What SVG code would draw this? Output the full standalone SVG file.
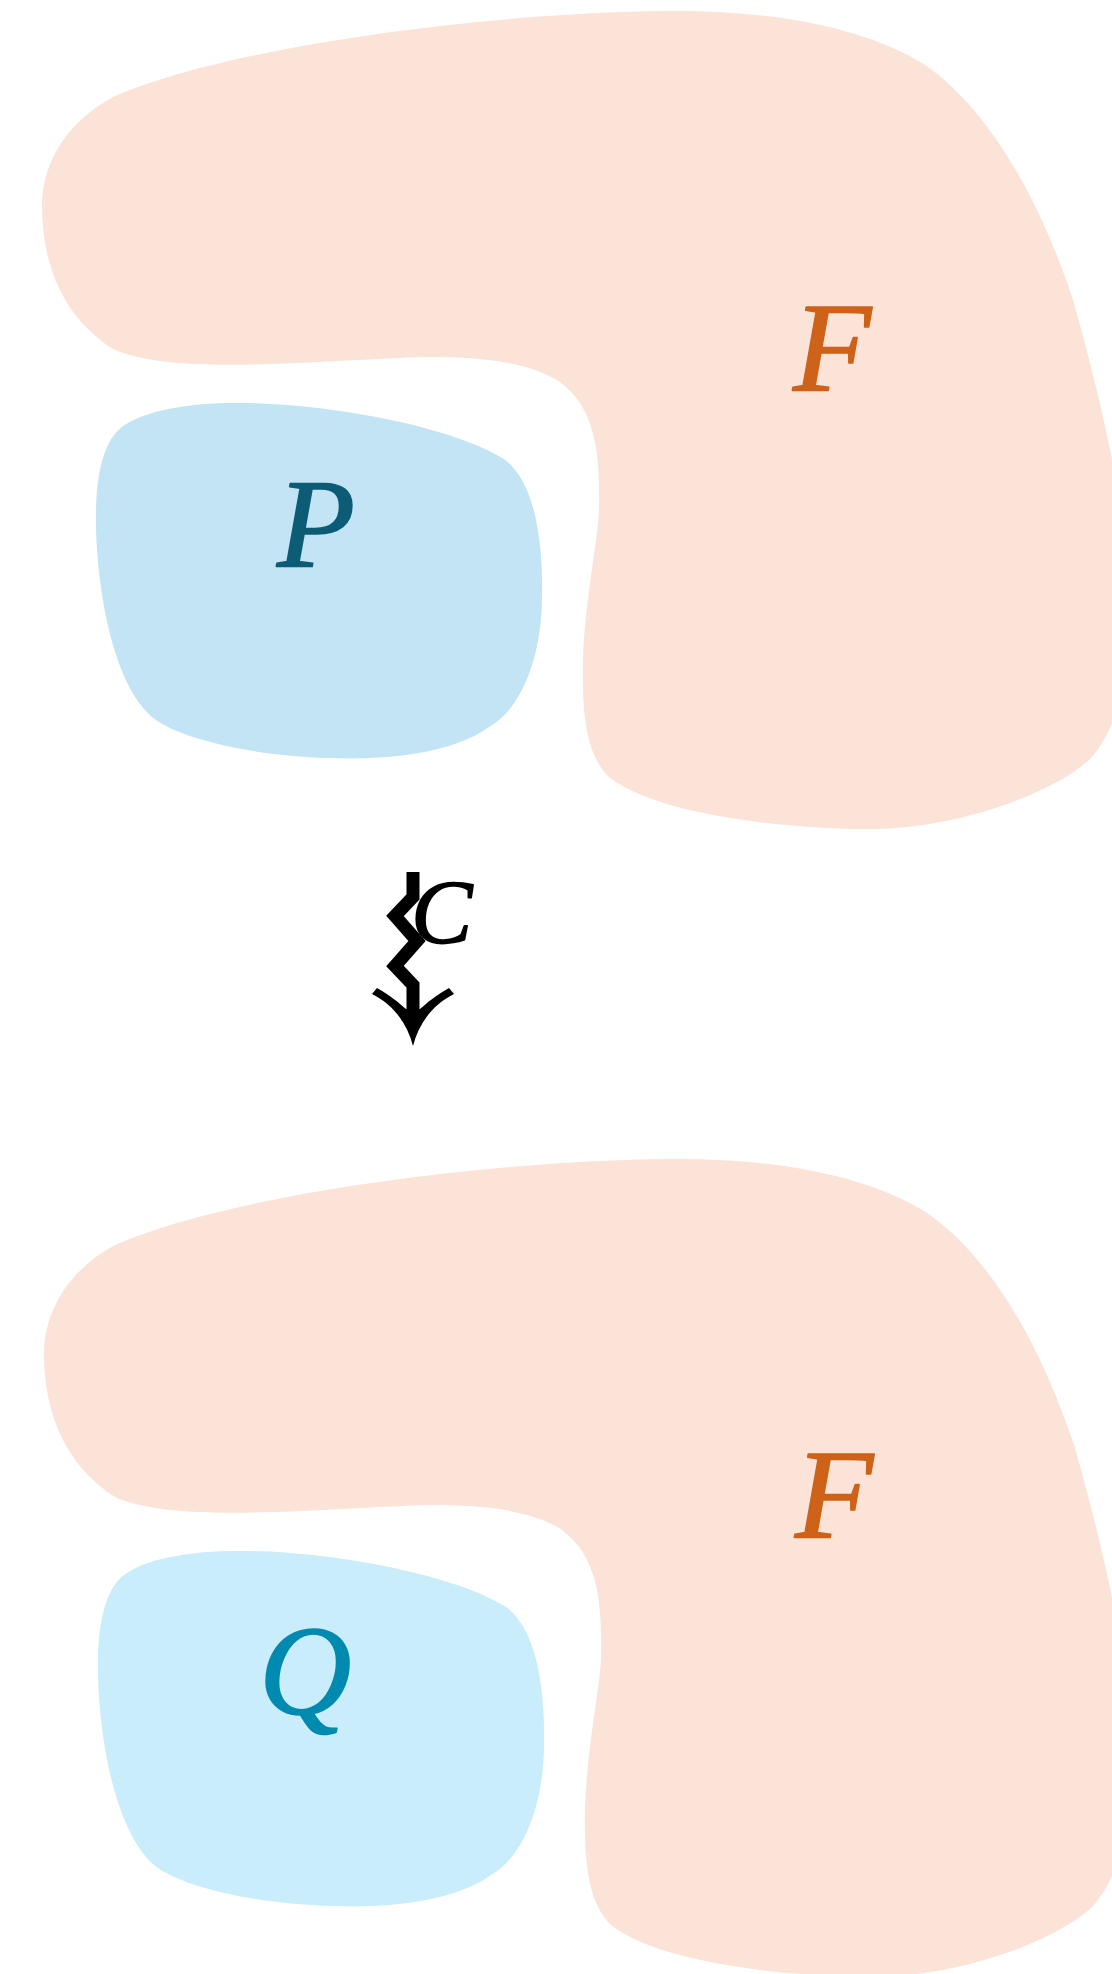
<svg xmlns="http://www.w3.org/2000/svg" width="1112" height="1974" viewBox="0 0 1112 1974">
  <style>
    .big { fill: #fbe3d7; }
    .setP { fill: #c2e4f4; }
    .setQ { fill: #caedfb; }
    .lbl { font-family: "Liberation Serif", "Times New Roman", serif; font-style: italic; stroke-width: 1.5px; stroke-linejoin: round; }
    .lblF { fill: #cd6218; stroke: #cd6218; font-size: 128px; }
    .lblP { fill: #0d5c75; stroke: #0d5c75; font-size: 128px; }
    .lblQ { fill: #008ab0; stroke: #008ab0; font-size: 128px; }
    .lblC { fill: #000000; stroke: #000000; font-size: 92px; }
  </style>
  <defs>
    <!-- large region, reused in both panels -->
    <path id="regionF" d="M 667,11 C 780,10 870,30 925,65 C 990,110 1040,200 1073,300 C 1090,360 1105,420 1118,490 C 1135,590 1140,700 1092,757 C 1060,790 960,830 865,829 C 780,828 660,815 610,778 C 585,755 582,710 583,660 C 585,600 598,540 599,510 C 600,460 598,410 560,382 C 520,355 440,356 400,358 C 300,362 170,375 113,349 C 60,315 42,260 42,206 C 42,160 70,120 113,97 C 230,45 500,12 667,11 Z"/>
    <!-- small region, reused in both panels -->
    <path id="regionSmall" d="M 234,403 C 320,402 450,425 504,459 C 540,485 543,560 542,600 C 541,660 520,710 489,727 C 450,755 380,760 333,758 C 260,757 180,740 152,717 C 110,680 97,580 96,526 C 95,470 105,435 128,423 C 150,410 190,403 234,403 Z"/>
  </defs>

  <rect x="0" y="0" width="1112" height="1974" fill="#ffffff"/>

  <!-- upper panel -->
  <g id="node-F-top">
    <use href="#regionF" class="big"/>
    <text class="lbl lblF" x="793" y="390">F</text>
  </g>
  <g id="node-P">
    <use href="#regionSmall" class="setP"/>
    <text class="lbl lblP" x="277" y="567">P</text>
  </g>

  <!-- lower panel -->
  <g id="node-F-bottom" transform="translate(2,1148)">
    <use href="#regionF" class="big"/>
    <text class="lbl lblF" x="793" y="389">F</text>
  </g>
  <g id="node-Q" transform="translate(2,1148)">
    <use href="#regionSmall" class="setQ"/>
    <text class="lbl lblQ" x="257" y="566">Q</text>
  </g>

  <!-- squiggly arrow between the panels -->
  <g id="connectors">
    <path d="M 413,872 V 897 L 395,916 L 417,941 L 395,966 L 413,985 V 1012" fill="none" stroke="#000000" stroke-width="13" stroke-linejoin="miter" stroke-miterlimit="10"/>
    <path d="M 413,1046 C 407,1022 392,1004 372,994 L 377,988 C 390,995 399,1003 406,1009 L 420,1009 C 427,1003 436,995 449,988 L 454,994 C 434,1004 419,1022 413,1046 Z" fill="#000000"/>
    <text class="lbl lblC" x="411" y="943">C</text>
  </g>
</svg>
